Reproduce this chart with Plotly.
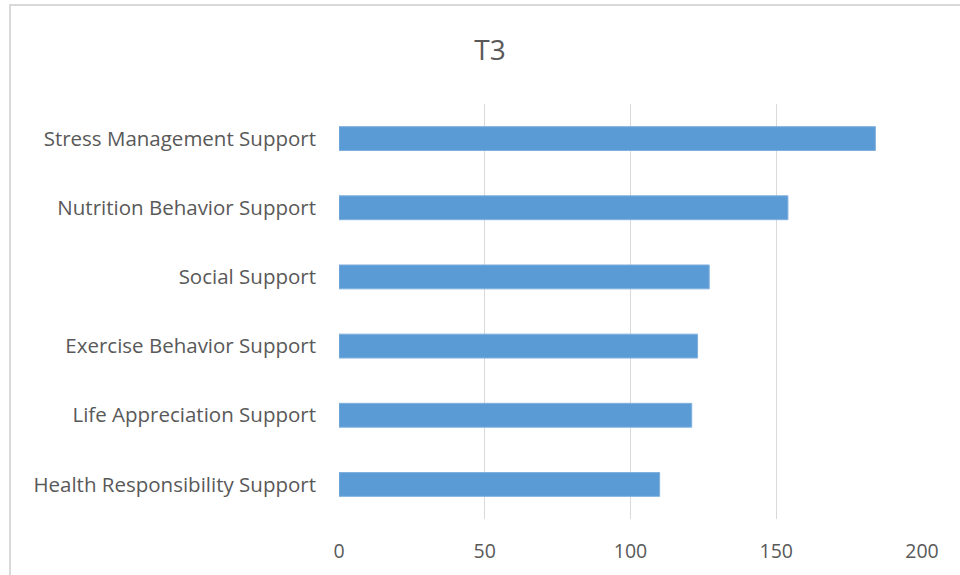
import plotly.graph_objects as go

# Support categories (top to bottom as displayed) and their T3 scores
categories = [
    "Stress Management Support",
    "Nutrition Behavior Support",
    "Social Support",
    "Exercise Behavior Support",
    "Life Appreciation Support",
    "Health Responsibility Support",
]
scores = [184, 154, 127, 123, 121, 110]
x_ticks = [0, 50, 100, 150, 200]

W, H = 960, 575
ML, MR, MT, MB = 339, 38, 104, 56

TEXT = "#595959"
GRID = "#d9d9d9"
FONT = "Open Sans, Carlito, Calibri, sans-serif"

fig = go.Figure(
    go.Bar(
        y=categories,
        x=scores,
        orientation="h",
        marker=dict(color="#5B9BD5", line=dict(color="#7fb0de", width=1)),
        width=0.345,
        hoverinfo="x+y",
    )
)

# light frame around the chart area, expressed in paper coordinates
pw = W - ML - MR
ph = H - MT - MB
def px_to_paper_x(px):
    return (px - ML) / pw
def px_to_paper_y(py):
    return (H - MB - py) / ph

fig.add_shape(
    type="rect", xref="paper", yref="paper",
    x0=px_to_paper_x(10), x1=px_to_paper_x(W + 20),
    y0=px_to_paper_y(H + 20), y1=px_to_paper_y(5),
    line=dict(color=GRID, width=2), fillcolor="rgba(0,0,0,0)", layer="below",
)

fig.update_layout(
    width=W, height=H,
    margin=dict(l=ML, r=MR, t=MT, b=MB),
    paper_bgcolor="white", plot_bgcolor="white",
    title=dict(text="T3", x=(490 - ML) / pw, xref="paper", xanchor="center",
               y=1 - 50 / H, yanchor="middle",
               font=dict(family=FONT, size=28, color=TEXT)),
    font=dict(family=FONT, color=TEXT),
    showlegend=False,
    xaxis=dict(
        range=[0, 200], tickvals=x_ticks, showgrid=True, gridcolor=GRID, gridwidth=1,
        zeroline=False, showline=False, ticks="",
        tickfont=dict(family=FONT, size=19.5, color=TEXT),
        ticklabelstandoff=18,
    ),
    yaxis=dict(
        categoryorder="array", categoryarray=categories[::-1],
        showgrid=False, zeroline=False, showline=False, ticks="",
        tickfont=dict(family=FONT, size=20.5, color=TEXT),
        ticklabelstandoff=22,
    ),
)

fig.write_html("out.html")
